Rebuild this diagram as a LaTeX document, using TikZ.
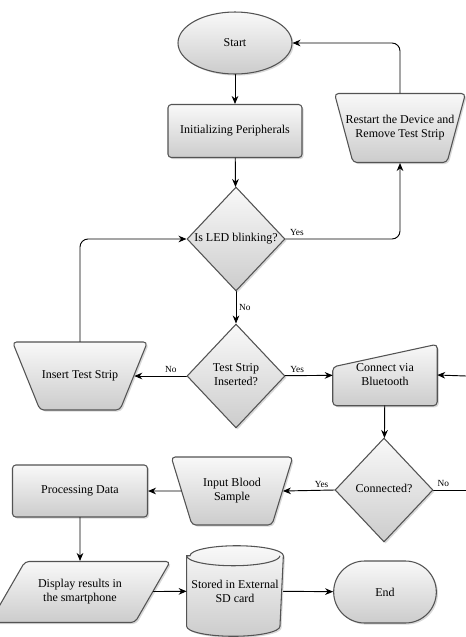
\documentclass[tikz,border=0pt]{standalone}
\usepackage{fontspec}
\setmainfont{Liberation Serif}
\usetikzlibrary{shapes.geometric,shapes.misc,shadows,arrows.meta,backgrounds}
\newcommand{\ztext}[1]{\makebox[0pt]{\begin{tabular}{@{}c@{}}#1\end{tabular}}}
\newcommand{\fixbox}[3]{\vbox to #2{\vss\hbox to #1{\hss\begin{tabular}{@{}c@{}}#3\end{tabular}\hss}\vss}}

\begin{document}
\begin{tikzpicture}[x=0.75pt,y=-0.75pt,line cap=round,line join=round,
  font=\fontsize{9}{10.5}\selectfont,
  skin/.style={draw=gray!65!black,line width=0.8pt,top color=gray!5,bottom color=gray!40,
    drop shadow={shadow xshift=1.2pt,shadow yshift=-1.2pt,opacity=0.3}},
  box/.style={skin,inner sep=0pt},
  term/.style={box,ellipse,minimum width=85.5pt,minimum height=46.5pt},
  proc/.style={box,rectangle,rounded corners=2.5pt,align=center},
  decide/.style={box,diamond,minimum width=73.5pt,minimum height=78pt},
  manop/.style={box,trapezium,shape border rotate=180,rounded corners=3pt},
  data/.style={box,trapezium,trapezium left angle=60,trapezium right angle=120,rounded corners=3pt},
  flow/.style={-{Stealth[length=6pt,width=5pt]},line width=0.7pt},
  tag/.style={font=\fontsize{7}{8}\selectfont,inner sep=2pt}]
  \useasboundingbox (0,0) rectangle (466,637);
  % upper part
  \node[term] (start) at (235,43) {Start};
  \node[proc,minimum width=100.5pt,minimum height=39.75pt] (init) at (235,131) {Initializing Peripherals};
  \node[decide] (led) at (236,239) {\ztext{Is LED blinking?}};
  \node[manop,trapezium angle=75] (rs) at (400,128)
    {\fixbox{70.5pt}{51.75pt}{Restart the Device and\\Remove Test Strip}};
  % middle row
  \node[decide] (ts) at (236,376) {\ztext{Test Strip\\Inserted?}};
  \node[manop,trapezium angle=68] (ins) at (80,376) {\fixbox{60pt}{51pt}{Insert Test Strip}};
  \node[align=center,minimum width=78pt,minimum height=45.75pt] (bt) at (385,375) {Connect via\\Bluetooth};
  % lower part
  \node[decide] (con) at (384,490) {\ztext{Connected?}};
  \node[manop,trapezium angle=73] (inp) at (232,491) {\fixbox{60pt}{51pt}{Input Blood\\Sample}};
  \node[proc,minimum width=101.25pt,minimum height=39pt] (pd) at (80,491) {Processing Data};
  \node[data] (disp) at (80,592) {\fixbox{82.5pt}{45.75pt}{Display results in\\the smartphone}};
  \node[align=center,minimum width=70pt,minimum height=67.5pt] (sd) at (235,591) {Stored in External\\SD card};
  \node[box,rounded rectangle,minimum width=77pt,minimum height=46.5pt] (fin) at (385,592) {End};
  % manual input and storage outlines behind their texts
  \begin{scope}[on background layer,x=1pt,y=1pt]
    \path[skin,rounded corners=3pt] (bt.south west) -- ([yshift=-17pt]bt.north west)
      -- (bt.north east) -- (bt.south east) -- cycle;
    \path[skin] ([yshift=-7.5pt]sd.north west) -- ([yshift=7.5pt]sd.south west)
      arc[start angle=180,end angle=360,x radius=35pt,y radius=7.5pt]
      -- ([yshift=-7.5pt]sd.north east)
      arc[start angle=0,end angle=180,x radius=35pt,y radius=7.5pt] -- cycle;
    \draw[draw=gray!65!black,line width=0.8pt] ([yshift=-7.5pt]sd.north west)
      arc[start angle=180,end angle=360,x radius=35pt,y radius=7.5pt];
  \end{scope}
  \coordinate (btin) at (466,376);
  \coordinate (conout) at (466,490);
  % connectors
  \draw[flow] (start) -- (init);
  \draw[flow] (init) -- (led);
  \draw[flow,rounded corners=6pt] (led.east) -| node[tag,pos=0.05,above]{Yes} (rs.south);
  \draw[flow,rounded corners=6pt] (rs.north) |- (start.east);
  \draw[flow] (led) -- node[tag,right]{No} (ts);
  \draw[flow] (ts) -- node[tag,above,pos=0.3]{No} (ins);
  \draw[flow,rounded corners=6pt] (ins.north) |- (led.west);
  \draw[flow] (ts) -- node[tag,above,pos=0.25]{Yes} (bt);
  \draw[flow] (btin) -- (bt.east);
  \draw[flow] (bt) -- (con);
  \draw[line width=0.7pt] (con) -- node[tag,above,pos=0.3]{No} (conout);
  \draw[flow] (con.west) -- node[tag,above,pos=0.25]{Yes} (inp.east);
  \draw[flow] (inp) -- (pd);
  \draw[flow] (pd) -- (disp);
  \draw[flow] (disp) -- (sd);
  \draw[flow] (sd) -- (fin);
\end{tikzpicture}
\end{document}
